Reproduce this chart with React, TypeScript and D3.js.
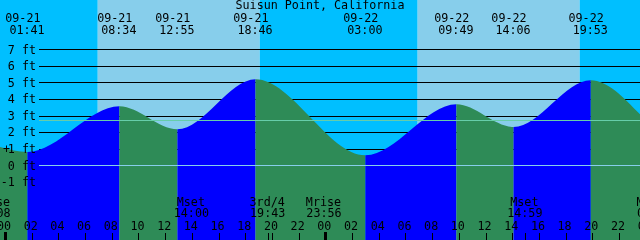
import React from "react";
import * as d3 from "d3";

const W = 640;
const H = 240;

const title = "Suisun Point, California";

// tide extremes
const extremeDates = ["09-21", "09-21", "09-21", "09-21", "09-22", "09-22", "09-22", "09-22"];
const extremeTimes = ["01:41", "08:34", "12:55", "18:46", "03:00", "09:49", "14:06", "19:53"];
const extremeHeights = [0.8, 3.56, 2.17, 5.19, 0.6, 3.68, 2.31, 5.13];
// tide height read at the left and right borders of the chart
const edgeHeights = [1.1, 3.08];

// sun: rise, set, rise, set
const sunDates = ["09-21", "09-21", "09-22", "09-22"];
const sunTimes = ["06:57", "19:05", "06:55", "19:03"];

// moon events
const moonLabels = ["Mrise", "Mset", "3rd/4", "Mrise", "Mset", "Mrise"];
const moonDates = ["09-20", "09-21", "09-21", "09-21", "09-22", "09-23"];
const moonTimes = ["23:08", "14:00", "19:43", "23:56", "14:59", "00:42"];

const feetTicks = [-1, 0, 1, 2, 3, 4, 5, 6, 7];
const gridFeet = [1, 2, 3, 4, 5, 6, 7];
const hourTicks = d3.range(0, 49, 2);
const midnights = [0, 24, 48];
const mslFeet = 2.72;

const dayOffset: Record<string, number> = { "09-20": -24, "09-21": 0, "09-22": 24, "09-23": 48 };
const toHours = (date: string, time: string) => {
  const [hh, mm] = time.split(":").map(Number);
  return dayOffset[date] + hh + mm / 60;
};

const FONT = "DejaVu Sans Mono";
const FS = 11.7;

const COL_DAY = "#87CEEB";
const COL_NIGHT = "#00BFFF";
const COL_FLOOD = "#0000FF";
const COL_EBB = "#2E8B57";
const COL_DATUM = "#87CEEB";
const COL_MSL = "#66CDAA";

export default function App() {
  const x = d3.scaleLinear().domain([0, 48]).range([5, 5 + 13.348 * 48]);
  const y = d3.scaleLinear().domain([0, 7]).range([165.3, 49.3]);

  const extremes = extremeTimes.map((t, i) => ({
    h: toHours(extremeDates[i], t),
    v: extremeHeights[i],
    date: extremeDates[i],
    time: t,
  }));
  const pts = [
    { h: x.invert(0), v: edgeHeights[0] },
    ...extremes.map((e) => ({ h: e.h, v: e.v })),
    { h: x.invert(W), v: edgeHeights[1] },
  ];

  const area = d3
    .area<{ h: number; v: number }>()
    .x((d) => x(d.h))
    .y0(H)
    .y1((d) => y(d.v))
    .curve(d3.curveMonotoneX);
  const areaPath = area(pts) || "";

  const sunH = sunTimes.map((t, i) => toHours(sunDates[i], t));
  const bands: { x0: number; x1: number; day: boolean }[] = [];
  let prev = 0;
  let day = false;
  sunH.forEach((h) => {
    bands.push({ x0: prev, x1: x(h), day });
    prev = x(h);
    day = !day;
  });
  bands.push({ x0: prev, x1: W, day });

  const segs = pts.slice(0, -1).map((p, i) => ({
    x0: x(p.h),
    x1: x(pts[i + 1].h),
    rising: pts[i + 1].v > p.v,
  }));

  const moon = moonLabels.map((l, i) => ({ label: l, time: moonTimes[i], h: toHours(moonDates[i], moonTimes[i]) }));

  const py = (v: number) => Math.round(y(v)) + 0.5;

  return (
    <svg
      width={W}
      height={H}
      style={{ position: "fixed", left: 0, top: 0, display: "block" }}
      fontFamily={FONT}
      fontSize={FS}
    >
      <defs>
        {segs.map((s, i) => (
          <clipPath id={`seg${i}`} key={i}>
            <rect x={s.x0} y={0} width={s.x1 - s.x0} height={H} />
          </clipPath>
        ))}
      </defs>
      {bands.map((b, i) => (
        <rect key={i} x={b.x0} y={0} width={b.x1 - b.x0} height={H} fill={b.day ? COL_DAY : COL_NIGHT} />
      ))}
      {gridFeet.map((f) => (
        <line key={f} x1={39} x2={W} y1={py(f)} y2={py(f)} stroke="#000" strokeWidth={1} />
      ))}
      {segs.map((s, i) => (
        <path key={i} d={areaPath} fill={s.rising ? COL_FLOOD : COL_EBB} clipPath={`url(#seg${i})`} />
      ))}
      <line x1={39} x2={W} y1={py(0)} y2={py(0)} stroke={COL_DATUM} strokeWidth={1} />
      <line x1={39} x2={W} y1={py(mslFeet)} y2={py(mslFeet)} stroke={COL_MSL} strokeWidth={1} />

      <text x={320} y={9.3} textAnchor="middle">{title}</text>
      {extremes.map((e, i) => (
        <g key={i}>
          <text x={x(e.h) - 4.6} y={21.7} textAnchor="middle">{e.date}</text>
          <text x={x(e.h) - 0.5} y={34} textAnchor="middle">{e.time}</text>
        </g>
      ))}

      {feetTicks.map((f) => (
        <text key={f} x={36} y={y(f) + 4.3} textAnchor="end">{`${f} ft`}</text>
      ))}
      <text x={6.5} y={y(1) + 4.3} textAnchor="middle">+</text>

      {moon.map((m, i) => (
        <g key={i}>
          <text x={x(m.h) - 1} y={206} textAnchor="middle">{m.label}</text>
          <text x={x(m.h) - 0.5} y={217.3} textAnchor="middle">{m.time}</text>
          <line x1={Math.round(x(m.h)) + 0.5} x2={Math.round(x(m.h)) + 0.5} y1={233} y2={H} stroke="#000" />
        </g>
      ))}

      {hourTicks.map((h) => (
        <g key={h}>
          <text x={x(h) - 1} y={229.5} textAnchor="middle">{d3.format("02d")(h % 24)}</text>
          <line x1={Math.round(x(h)) + 0.5} x2={Math.round(x(h)) + 0.5} y1={233} y2={H} stroke="#000" />
        </g>
      ))}
      {midnights.map((h) => (
        <rect key={h} x={Math.round(x(h)) - 1} y={232} width={3} height={H - 232} fill="#000" />
      ))}
    </svg>
  );
}
